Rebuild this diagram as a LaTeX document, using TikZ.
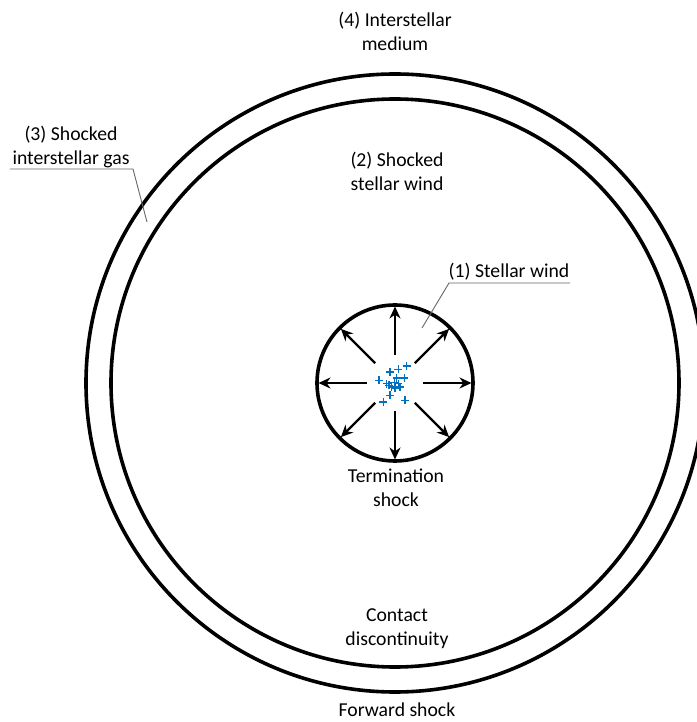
\documentclass[tikz,border=0pt]{standalone}
\usepackage{fontspec}
\setmainfont{Carlito}
\usetikzlibrary{arrows.meta}

\definecolor{starblue}{RGB}{0,112,192}
\tikzset{
  shockline/.style={line width=3.6pt},
  wind/.style={line width=2.2pt,-{Stealth[length=12pt,width=11pt]}},
  leader/.style={gray!80!black,line width=0.9pt},
  lbl/.style={align=center,inner sep=0pt,font=\fontsize{19.7}{24}\selectfont},
  starmark/.style={starblue,line width=1.4pt}
}

\begin{document}
\begin{tikzpicture}[x=1pt,y=1pt]
  \useasboundingbox (-395,-339) rectangle (301,383);
  \draw[shockline] (0,0) circle (309);
  \draw[shockline] (0,0) circle (284);
  \draw[shockline] (0,0) circle (78);
  \foreach \a in {0,45,...,315}
    \draw[wind] (\a:28) -- (\a:76.5);
  \foreach \x/\y in {11.7/17,3.3/13.7,-5/11,-16/2.7,9.3/5,1.7/5,-0.7/0.3,3.3/-0.7,
                    -6/-2.3,5/-4,0/-5,-3.3/-4,-5/-12.3,-11.7/-19,10/-17.3,-8.3/-0.7}
    \draw[starmark] (\x-4,\y) -- (\x+4,\y) (\x,\y-4) -- (\x,\y+4);
  \node[lbl] (ism) at (0,352) {(4) Interstellar\\medium};
  \node[lbl] (ssw) at (2,212) {(2) Shocked\\stellar wind};
  \node[lbl] (sig) at (-324,236) {(3) Shocked\\interstellar gas};
  \node[lbl] (sw) at (114,111) {(1) Stellar wind};
  \node[lbl] (ts) at (1,-105) {Termination\\shock};
  \node[lbl] (cd) at (2,-246) {Contact\\discontinuity};
  \node[lbl] (fs) at (2,-327) {Forward shock};
  % leaders
  \coordinate (sigL) at (-385,214);
  \coordinate (sigR) at (-262,214);
  \coordinate (sigP) at (-248,161);
  \draw[leader] (sigL) -- (sigR) -- (sigP);
  \coordinate (swL) at (54,100);
  \coordinate (swR) at (175,100);
  \coordinate (swP) at (27,55);
  \draw[leader] (swR) -- (swL) -- (swP);
\end{tikzpicture}
\end{document}
